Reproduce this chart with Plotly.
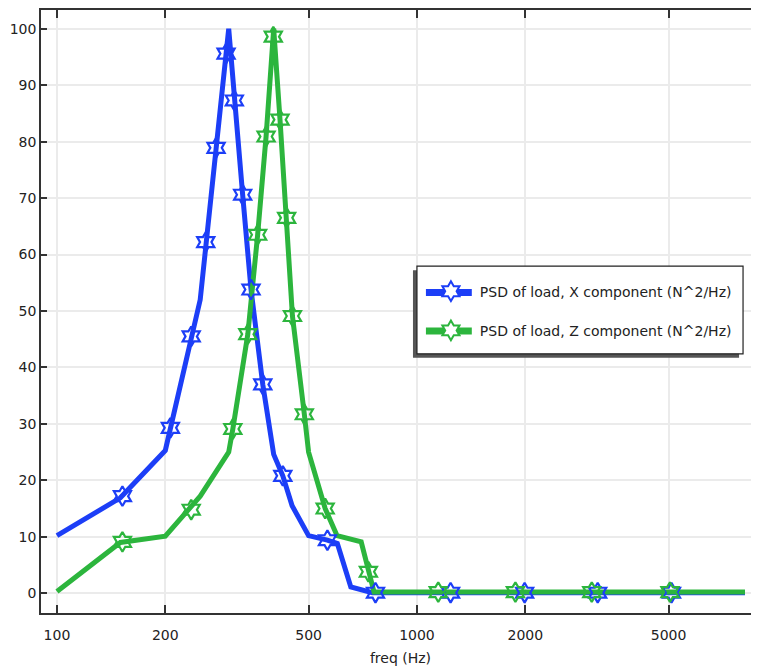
import plotly.graph_objects as go

# ---------------- data ----------------
x_line_freq = [100, 150, 200, 250, 300, 311, 328, 346, 373, 400, 424, 450, 500, 564, 601, 655, 752, 8150]
x_line_psd = [10.2, 16.9, 25.3, 52.0, 100.0, 87.3, 70.6, 53.8, 37.0, 24.6, 20.8, 15.5, 10.2, 9.4, 8.8, 1.1, 0.1, 0.1]

x_mark_freq = [152, 206.6, 236, 259, 276.7, 295, 311, 328, 346, 373, 424, 564, 767, 1240, 1991, 3177, 5094]
x_mark_psd = [17.2, 29.3, 45.5, 62.2, 78.9, 95.6, 87.3, 70.6, 53.8, 37.0, 20.8, 9.4, 0.1, 0.1, 0.1, 0.1, 0.1]

z_line_freq = [100, 150, 200, 250, 300, 308, 339, 361, 381, 400, 416.5, 434.5, 451, 486.6, 500, 556, 600, 700, 760, 8150]
z_line_psd = [0.3, 9.0, 10.1, 17.2, 25.0, 29.1, 45.9, 63.5, 80.9, 100.0, 83.9, 66.5, 49.1, 31.7, 25.0, 15.0, 10.2, 9.1, 0.2, 0.2]

z_mark_freq = [152, 236, 308, 339, 361, 381, 399, 416.5, 434.5, 451, 486.6, 556, 733, 1146, 1877, 3059, 5044]
z_mark_psd = [9.1, 14.8, 29.1, 45.9, 63.5, 80.9, 98.6, 83.9, 66.5, 49.1, 31.7, 15.0, 3.8, 0.2, 0.2, 0.2, 0.2]

x_tick_vals = [100, 200, 500, 1000, 2000, 5000]
x_tick_text = ["100", "200", "500", "1000", "2000", "5000"]

series_names = ["PSD of load, X component (N^2/Hz)", "PSD of load, Z component (N^2/Hz)"]

BLUE = "#1c3ef7"
GREEN = "#2cb53d"
FONT = "DejaVu Sans"
NB = "\u00a0\u00a0"

fig = go.Figure()

fig.add_trace(go.Scatter(x=x_line_freq, y=x_line_psd, mode="lines",
                         line=dict(color=BLUE, width=5), showlegend=False, hoverinfo="skip"))
fig.add_trace(go.Scatter(x=z_line_freq, y=z_line_psd, mode="lines",
                         line=dict(color=GREEN, width=5), showlegend=False, hoverinfo="skip"))
fig.add_trace(go.Scatter(x=x_mark_freq, y=x_mark_psd, mode="markers",
                         marker=dict(symbol="hexagram-open", size=15, color=BLUE,
                                     line=dict(color=BLUE, width=2.2)),
                         showlegend=False))
fig.add_trace(go.Scatter(x=z_mark_freq, y=z_mark_psd, mode="markers",
                         marker=dict(symbol="hexagram-open", size=15, color=GREEN,
                                     line=dict(color=GREEN, width=2.2)),
                         showlegend=False))
# legend entries (symbol only; the legend line is drawn as a shape)
for name, col, grp in [(series_names[0], BLUE, "a"), (series_names[1], GREEN, "b")]:
    fig.add_trace(go.Scatter(x=[None], y=[None], mode="markers", name=NB + name,
                             legendgroup=grp,
                             marker=dict(symbol="hexagram", size=15, color="white",
                                         line=dict(color=col, width=2))))

# page offset of the plot div (browser body margin)
OFF = 8
W, H = 754, 661
L, R, T, B = 33, 0, 0, 56
pw = W - L - R
ph = H - T - B

def px_x(p):
    return (p - OFF - L) / pw

def px_y(p):
    return (H - B - (p - OFF)) / ph

# legend box (shadow + frame) and legend lines
box = (418, 265, 745, 353)
fig.add_shape(type="rect", xref="paper", yref="paper", layer="above",
              x0=px_x(box[0] - 4), x1=px_x(box[2] - 4), y0=px_y(box[3] + 4), y1=px_y(box[1] + 4),
              fillcolor="#555555", line=dict(width=0))
fig.add_shape(type="rect", xref="paper", yref="paper", layer="above",
              x0=px_x(box[0]), x1=px_x(box[2]), y0=px_y(box[3]), y1=px_y(box[1]),
              fillcolor="white", line=dict(color="#222222", width=1.2))
for col, ry in [(BLUE, 291.5), (GREEN, 330)]:
    fig.add_shape(type="line", xref="paper", yref="paper", layer="above",
                  x0=px_x(427), x1=px_x(473), y0=px_y(ry), y1=px_y(ry),
                  line=dict(color=col, width=7))

fig.update_layout(
    width=W, height=H, autosize=False,
    margin=dict(l=L, r=R, t=T, b=B),
    paper_bgcolor="white", plot_bgcolor="white",
    font=dict(family=FONT, size=14, color="#222222"),
    legend=dict(x=px_x(432), y=px_y(274.5), xanchor="left", yanchor="top",
                bgcolor="rgba(0,0,0,0)", borderwidth=0,
                font=dict(family=FONT, size=14, color="#222222"),
                tracegroupgap=18, traceorder="grouped"),
    xaxis=dict(type="log", range=[1.9557, 3.9529],
               tickvals=x_tick_vals, ticktext=x_tick_text,
               ticks="inside", ticklen=8, tickwidth=1.5, tickcolor="#333333",
               showline=True, linecolor="#333333", linewidth=1.5, mirror="ticks",
               showgrid=True, gridcolor="#ebebeb", gridwidth=2,
               tickfont=dict(family=FONT, size=14, color="#222222"),
               ticklabelstandoff=8,
               title=dict(text="freq (Hz)", font=dict(family=FONT, size=14, color="#222222"), standoff=12),
               zeroline=False),
    yaxis=dict(range=[-3.5, 103.32], tick0=0, dtick=10,
               ticks="inside", ticklen=6, tickwidth=1.5, tickcolor="#333333",
               showline=True, linecolor="#333333", linewidth=1.5, mirror="ticks",
               showgrid=True, gridcolor="#ebebeb", gridwidth=2,
               tickfont=dict(family=FONT, size=14, color="#222222"),
               zeroline=False),
)

fig.write_html("out.html")
